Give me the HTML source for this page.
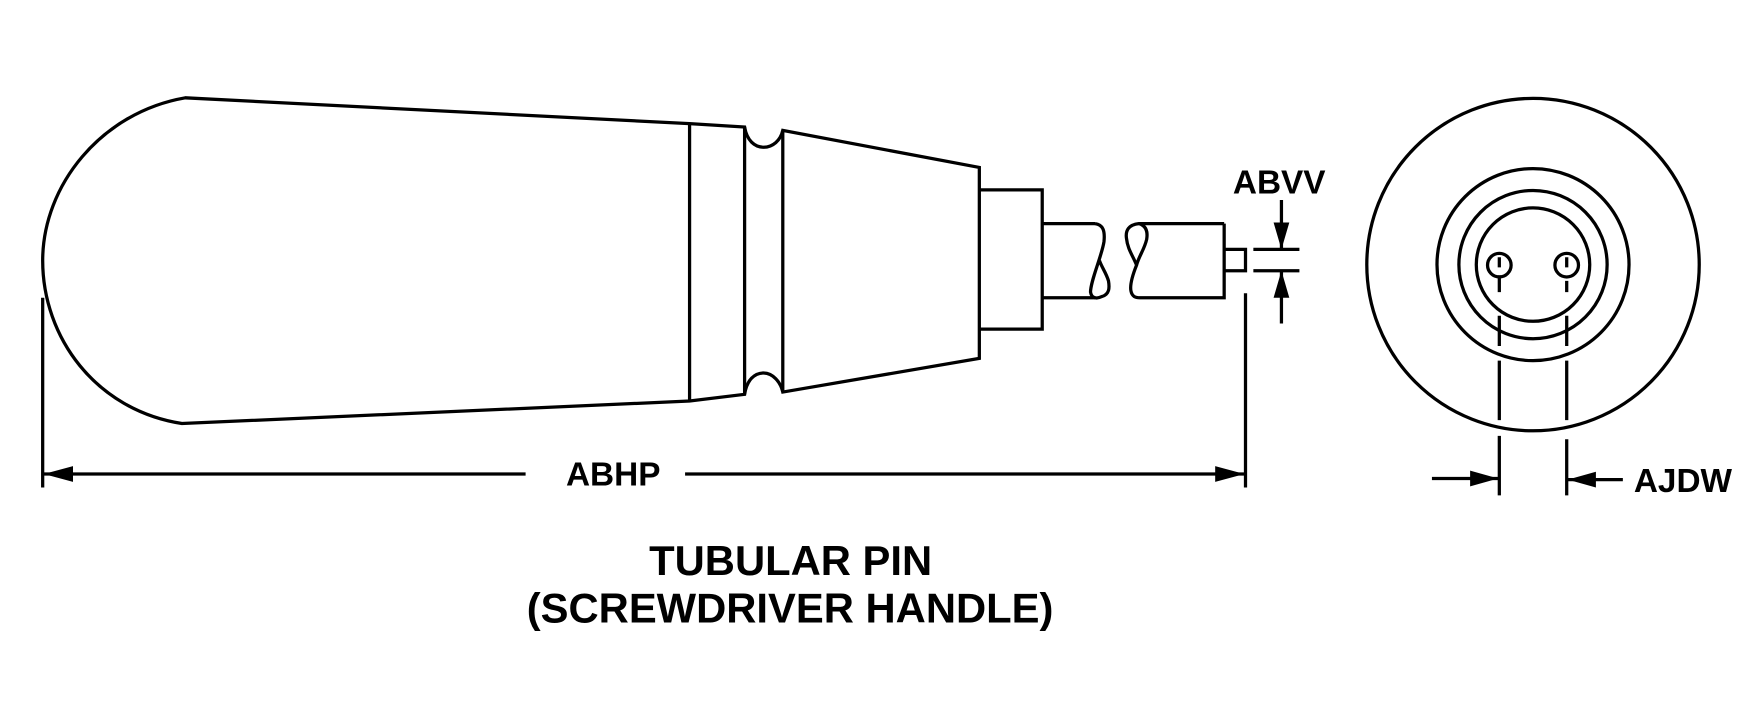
<!DOCTYPE html>
<html><head><meta charset="utf-8"><style>
html,body{margin:0;padding:0;background:#fff;width:1761px;height:710px;overflow:hidden}
svg{display:block}
text{font-family:"Liberation Sans",sans-serif;font-weight:bold;fill:#000}
.l{fill:none;stroke:#000;stroke-width:2.9}
</style></head><body>
<svg width="1761" height="710" viewBox="0 0 1568 632" xmlns="http://www.w3.org/2000/svg">
<rect width="1568" height="632" fill="#fff"/>
<path class="l" d="M165,87 C90,100 38,165 38,232 C38,300 85,365 162,377 L614,357 L663,351 C665,338 672,332 680,332 C688,332 695,340 697,349 L872,319 L872,149 L697,116 C695,125 688,131 680,131 C672,131 665,125 663,113 L614,110 Z"/>
<path class="l" d="M614,110V357M663,113V351M697,116V349"/>
<path class="l" d="M872,169H928V293H872M928,199H975M928,265H975"/>
<path class="l" d="M975,199 C982,200 984,205 983,215 C981,228 971,250 971,260 C972,266 977,266 981,264 C988,262 988,256 987,250 C985,243 981,238 979,232"/>
<path class="l" d="M1090,199H1014C1005,200 1002,205 1003,212 C1004,222 1009,228 1012,236 C1008,246 1006,254 1007,259 C1008,264 1011,265 1015,265H1090V199M1014,199C1021,201 1022,207 1021,213 C1019,222 1014,228 1012,236"/>
<path class="l" d="M1090,222H1109V241H1090"/>
<path class="l" d="M38,265V434M1109,261V434M38,422H468M610,422H1109"/>
<path d="M39,422L65,415V429ZM1108,422L1082,415V429Z"/>
<path class="l" d="M1116,222H1157M1116,241H1157M1141,178V222M1141,241V288"/>
<path d="M1141,222L1134,198H1148ZM1141,241L1134,265H1148Z"/>
<circle class="l" cx="1365" cy="235.5" r="148"/>
<circle class="l" cx="1365" cy="235.5" r="85.5"/>
<circle class="l" cx="1365" cy="235.5" r="66"/>
<circle class="l" cx="1365" cy="235.5" r="50.5"/>
<circle class="l" cx="1335" cy="236" r="10.5"/>
<circle class="l" cx="1395" cy="236" r="10.5"/>
<path class="l" d="M1335,229V238M1395,229V238M1335,245V260M1395,250V260M1335,281V308M1395,281V308M1335,321V374M1395,321V374M1335,388V441M1395,391V441"/>
<path class="l" d="M1275,426H1335M1395,427H1445"/>
<path d="M1334,426L1309,419V433ZM1396,427L1421,420V434Z"/>
<text x="546" y="432" font-size="29.7" text-anchor="middle">ABHP</text>
<text x="1139" y="172" font-size="29.7" text-anchor="middle">ABVV</text>
<text x="1498.5" y="438" font-size="29.7" text-anchor="middle">AJDW</text>
<text x="704" y="512" font-size="37.2" text-anchor="middle">TUBULAR PIN</text>
<text x="703.5" y="554" font-size="37.2" text-anchor="middle">(SCREWDRIVER HANDLE)</text>
</svg>
</body></html>
